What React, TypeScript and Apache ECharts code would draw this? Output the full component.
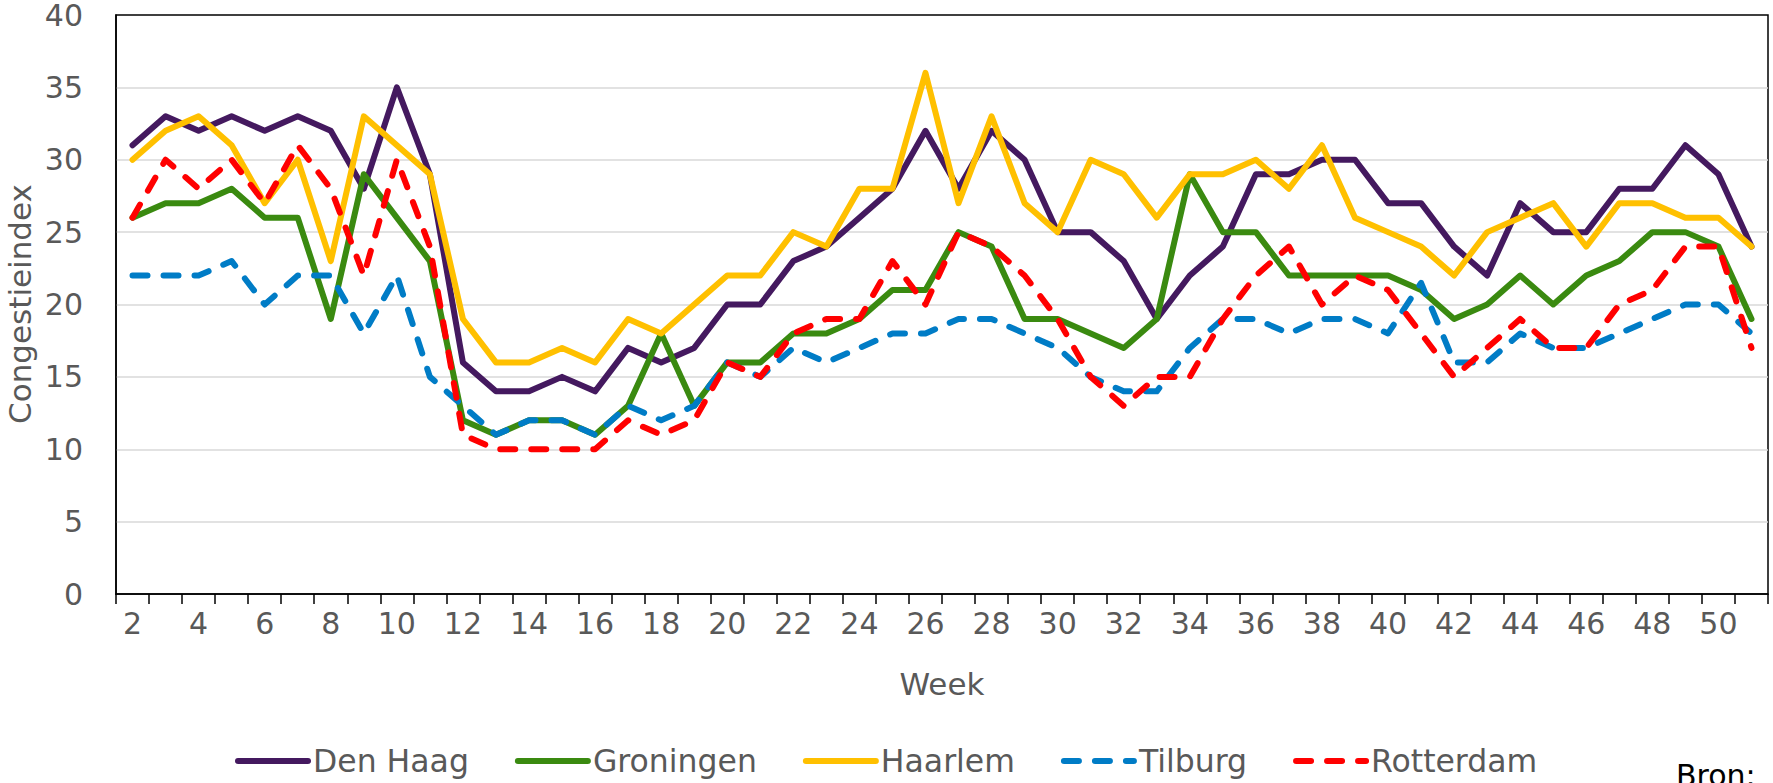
import React, { useEffect, useRef } from "react";
import * as echarts from "echarts";

const weeks = Array.from({ length: 50 }, (_, i) => String(i + 2));

const denHaag = [31, 33, 32, 33, 32, 33, 32, 28, 35, 29, 16, 14, 14, 15, 14, 17, 16, 17, 20, 20, 23, 24, 26, 28, 32, 28, 32, 30, 25, 25, 23, 19, 22, 24, 29, 29, 30, 30, 27, 27, 24, 22, 27, 25, 25, 28, 28, 31, 29, 24];
const groningen = [26, 27, 27, 28, 26, 26, 19, 29, 26, 23, 12, 11, 12, 12, 11, 13, 18, 13, 16, 16, 18, 18, 19, 21, 21, 25, 24, 19, 19, 18, 17, 19, 29, 25, 25, 22, 22, 22, 22, 21, 19, 20, 22, 20, 22, 23, 25, 25, 24, 19];
const haarlem = [30, 32, 33, 31, 27, 30, 23, 33, 31, 29, 19, 16, 16, 17, 16, 19, 18, 20, 22, 22, 25, 24, 28, 28, 36, 27, 33, 27, 25, 30, 29, 26, 29, 29, 30, 28, 31, 26, 25, 24, 22, 25, 26, 27, 24, 27, 27, 26, 26, 24];
const tilburg = [22, 22, 22, 23, 20, 22, 22, 18, 22, 15, 13, 11, 12, 12, 11, 13, 12, 13, 16, 15, 17, 16, 17, 18, 18, 19, 19, 18, 17, 15, 14, 14, 17, 19, 19, 18, 19, 19, 18, 21.5, 16, 16, 18, 17, 17, 18, 19, 20, 20, 18];
const rotterdam = [26, 30, 28, 30, 27, 31, 28, 22, 30, 24, 11, 10, 10, 10, 10, 12, 11, 12, 16, 15, 18, 19, 19, 23, 20, 25, 24, 22, 19, 15, 13, 15, 15, 19, 22, 24, 20, 22, 21, 18, 15, 17, 19, 17, 17, 20, 21, 24, 24, 17];

const seriesDefs = [
  { name: "Den Haag", data: denHaag, color: "#44195F", dashed: false },
  { name: "Groningen", data: groningen, color: "#3A8A10", dashed: false },
  { name: "Haarlem", data: haarlem, color: "#FFC000", dashed: false },
  { name: "Tilburg", data: tilburg, color: "#007CC6", dashed: true },
  { name: "Rotterdam", data: rotterdam, color: "#FF0000", dashed: true },
];

const FONT = "'DejaVu Sans', Verdana, sans-serif";
const TEXT = "#595959";
const LINE_W = 6;

export default function App() {
  const ref = useRef<HTMLDivElement>(null);
  useEffect(() => {
    const chart = echarts.init(ref.current!, null, { renderer: "svg" });
    chart.setOption({
      animation: false,
      backgroundColor: "#ffffff",
      textStyle: { fontFamily: FONT },
      grid: {
        left: 116,
        right: 5,
        top: 13,
        bottom: 189,
        show: true,
        borderColor: "#000",
        borderWidth: 1.5,
      },
      legend: {
        left: 230,
        top: 740,
        itemWidth: 70,
        itemHeight: 20,
        itemGap: 46,
        itemStyle: { opacity: 0 },
        lineStyle: { width: LINE_W, cap: "round" },
        textStyle: { fontSize: 31.5, color: TEXT, fontFamily: FONT },
        data: seriesDefs.map((s) => s.name),
      },
      xAxis: {
        type: "category",
        data: weeks,
        boundaryGap: true,
        name: "Week",
        nameLocation: "middle",
        nameGap: 74,
        nameTextStyle: { fontSize: 31, color: TEXT, fontFamily: FONT },
        axisLine: { lineStyle: { color: "#000", width: 1.5 } },
        axisTick: { show: true, interval: 0, length: 10, lineStyle: { color: "#000", width: 1.5 } },
        axisLabel: { interval: 1, fontSize: 30, color: TEXT, margin: 14, fontFamily: FONT },
        splitLine: { show: false },
      },
      yAxis: {
        type: "value",
        min: 0,
        max: 40,
        interval: 5,
        axisLine: { show: true, lineStyle: { color: "#000", width: 1.5 } },
        axisTick: { show: false },
        axisLabel: { fontSize: 30, color: TEXT, margin: 33, fontFamily: FONT },
        splitLine: {
          show: true,
          showMaxLine: false,
          showMinLine: false,
          lineStyle: { color: "#D9D9D9", width: 1.5 },
        },
      },
      graphic: [
        {
          type: "text",
          x: 20,
          y: 304,
          rotation: Math.PI / 2,
          style: {
            text: "Congestieindex",
            fontSize: 31,
            fill: TEXT,
            fontFamily: FONT,
            align: "center",
            verticalAlign: "middle",
          },
        },
        {
          type: "text",
          x: 1676,
          y: 760,
          style: {
            text: "Bron:",
            fontSize: 30,
            fill: "#000",
            fontFamily: FONT,
            align: "left",
            verticalAlign: "top",
          },
        },
      ],
      series: seriesDefs.map((s) => ({
        name: s.name,
        type: "line",
        data: s.data,
        symbol: "none",
        showSymbol: false,
        color: s.color,
        lineStyle: {
          color: s.color,
          width: LINE_W,
          type: s.dashed ? [15, 16] : "solid",
          cap: "round",
          join: "round",
        },
        z: 2,
      })),
    });
    return () => chart.dispose();
  }, []);
  return (
    <div
      ref={ref}
      style={{ position: "fixed", left: 0, top: 0, width: 1773, height: 783 }}
    />
  );
}
